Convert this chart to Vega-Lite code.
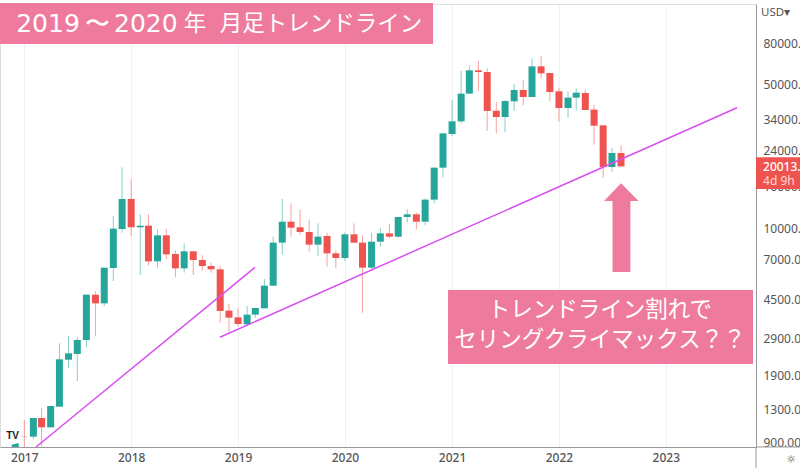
{
  "$schema": "https://vega.github.io/schema/vega-lite/v6.json",
  "width": 756,
  "height": 443,
  "autosize": "none",
  "padding": {"left": 0, "top": 4, "right": 44, "bottom": 21},
  "background": "white",
  "datasets": {
    "candles": [
      {"date":"2016-12-01","open":856,"close":892,"high":892,"low":856},
      {"date":"2017-01-01","open":968,"close":965,"high":1159,"low":856},
      {"date":"2017-02-01","open":961,"close":1185,"high":1185,"low":933},
      {"date":"2017-03-01","open":1185,"close":1067,"high":1321,"low":859},
      {"date":"2017-04-01","open":1067,"close":1357,"high":1357,"low":1067},
      {"date":"2017-05-01","open":1346,"close":2291,"high":2742,"low":1346},
      {"date":"2017-06-01","open":2282,"close":2451,"high":2977,"low":2078},
      {"date":"2017-07-01","open":2432,"close":2847,"high":2933,"low":1796},
      {"date":"2017-08-01","open":2847,"close":4736,"high":4736,"low":2621},
      {"date":"2017-09-01","open":4736,"close":4297,"high":4916,"low":2977},
      {"date":"2017-10-01","open":4297,"close":6415,"high":6415,"low":4171},
      {"date":"2017-11-01","open":6390,"close":9940,"high":11460,"low":5523},
      {"date":"2017-12-01","open":9904,"close":13870,"high":19800,"low":9504},
      {"date":"2018-01-01","open":13870,"close":10090,"high":17300,"low":9155},
      {"date":"2018-02-01","open":10090,"close":10280,"high":11720,"low":5908},
      {"date":"2018-03-01","open":10280,"close":6887,"high":11720,"low":6584},
      {"date":"2018-04-01","open":6887,"close":9224,"high":9865,"low":6415},
      {"date":"2018-05-01","open":9224,"close":7450,"high":9940,"low":7041},
      {"date":"2018-06-01","open":7478,"close":6366,"high":7764,"low":5754},
      {"date":"2018-07-01","open":6366,"close":7706,"high":8433,"low":6065},
      {"date":"2018-08-01","open":7706,"close":6990,"high":7706,"low":5908},
      {"date":"2018-09-01","open":6990,"close":6535,"high":7368,"low":6201},
      {"date":"2018-10-01","open":6535,"close":6295,"high":6784,"low":6065},
      {"date":"2018-11-01","open":6295,"close":3944,"high":6535,"low":3458},
      {"date":"2018-12-01","open":3958,"close":3658,"high":4265,"low":3114},
      {"date":"2019-01-01","open":3670,"close":3408,"high":4078,"low":3307},
      {"date":"2019-02-01","open":3394,"close":3785,"high":4171,"low":3369},
      {"date":"2019-03-01","open":3785,"close":4078,"high":4078,"low":3643},
      {"date":"2019-04-01","open":4062,"close":5240,"high":5648,"low":4062},
      {"date":"2019-05-01","open":5240,"close":8495,"high":9086,"low":5240},
      {"date":"2019-06-01","open":8495,"close":10750,"high":13870,"low":7423},
      {"date":"2019-07-01","open":10750,"close":10050,"high":13213,"low":9086},
      {"date":"2019-08-01","open":10090,"close":9574,"high":12260,"low":9291},
      {"date":"2019-09-01","open":9574,"close":8309,"high":10960,"low":7678},
      {"date":"2019-10-01","open":8309,"close":9086,"high":10550,"low":7340},
      {"date":"2019-11-01","open":9155,"close":7535,"high":9504,"low":6486},
      {"date":"2019-12-01","open":7535,"close":7148,"high":7764,"low":6390},
      {"date":"2020-01-01","open":7148,"close":9329,"high":9504,"low":6887},
      {"date":"2020-02-01","open":9329,"close":8495,"high":10550,"low":8433},
      {"date":"2020-03-01","open":8495,"close":6415,"high":9224,"low":3868},
      {"date":"2020-04-01","open":6415,"close":8590,"high":9504,"low":6295},
      {"date":"2020-05-01","open":8590,"close":9432,"high":10016,"low":8123},
      {"date":"2020-06-01","open":9432,"close":9086,"high":10476,"low":8883},
      {"date":"2020-07-01","open":9086,"close":11330,"high":11330,"low":8985},
      {"date":"2020-08-01","open":11330,"close":11680,"high":12350,"low":10630},
      {"date":"2020-09-01","open":11680,"close":10750,"high":11895,"low":9865},
      {"date":"2020-10-01","open":10750,"close":13770,"high":13980,"low":10320},
      {"date":"2020-11-01","open":13770,"close":19724,"high":19724,"low":13213},
      {"date":"2020-12-01","open":19724,"close":29000,"high":29000,"low":17700},
      {"date":"2021-01-01","open":28790,"close":33190,"high":42170,"low":28150},
      {"date":"2021-02-01","open":33190,"close":45290,"high":58420,"low":32450},
      {"date":"2021-03-01","open":45290,"close":58850,"high":62250,"low":45290},
      {"date":"2021-04-01","open":58850,"close":57750,"high":65350,"low":46830},
      {"date":"2021-05-01","open":57750,"close":37270,"high":60190,"low":29770},
      {"date":"2021-06-01","open":37400,"close":34840,"high":41240,"low":29000},
      {"date":"2021-07-01","open":34840,"close":41700,"high":42170,"low":29330},
      {"date":"2021-08-01","open":41550,"close":47190,"high":50480,"low":37270},
      {"date":"2021-09-01","open":47190,"close":43630,"high":52800,"low":39720},
      {"date":"2021-10-01","open":43630,"close":61550,"high":67340,"low":43630},
      {"date":"2021-11-01","open":61550,"close":56900,"high":69130,"low":53790},
      {"date":"2021-12-01","open":57100,"close":46130,"high":57100,"low":41550},
      {"date":"2022-01-01","open":46500,"close":38550,"high":48080,"low":33060},
      {"date":"2022-02-01","open":38550,"close":43300,"high":46320,"low":34580},
      {"date":"2022-03-01","open":43300,"close":45800,"high":48080,"low":37400},
      {"date":"2022-04-01","open":45620,"close":37690,"high":47530,"low":37690},
      {"date":"2022-05-01","open":37870,"close":31610,"high":39870,"low":25530},
      {"date":"2022-06-01","open":31730,"close":19870,"high":31730,"low":17630},
      {"date":"2022-07-01","open":19870,"close":23250,"high":24590,"low":18850},
      {"date":"2022-08-01","open":23250,"close":20013,"high":25340,"low":20013}
    ],
    "trendlines": [
      {"line":"2017","date":"2017-02-10","price":856},
      {"line":"2017","date":"2019-02-28","price":6441},
      {"line":"2019","date":"2018-10-31","price":2934},
      {"line":"2019","date":"2023-09-01","price":38680}
    ],
    "panels": [
      {"date":"2016-10-10","date2":"2020-10-28","price":125300,"price2":79100},
      {"date":"2020-12-18","date2":"2023-10-26","price":4991,"price2":2174},
      {"date":"2022-07-03","date2":"2022-09-02","price":13568,"price2":6107}
    ],
    "arrowhead": [
      {"date":"2022-06-04","price":13568,"base":13568},
      {"date":"2022-08-01","price":16550,"base":13568},
      {"date":"2022-09-30","price":13568,"base":13568}
    ],
    "frame": [
      {"date":"2023-11-05","date2":"2023-11-05","price":856,"price2":676},
      {"date":"2023-11-05","date2":"2024-04-05","price":856,"price2":856}
    ]
  },
  "encoding": {
    "x": {
      "field": "date",
      "type": "temporal",
      "title": null,
      "scale": {"domain": ["2016-10-10", "2023-11-05"], "padding": 0},
      "axis": {
        "values": [{"year":2017},{"year":2018},{"year":2019},{"year":2020},{"year":2021},{"year":2022},{"year":2023}],
        "format": "%Y",
        "grid": true,
        "gridColor": "#f0f1f5",
        "ticks": false,
        "domainColor": "#999999",
        "labelFont": "Noto Sans",
        "labelFontSize": 12,
        "labelFontWeight": 500,
        "labelColor": "#555555",
        "labelPadding": 5,
        "labelOverlap": false,
        "labelFlush": false
      }
    }
  },
  "layer": [
    {
      "data": {"name": "candles"},
      "mark": {"type": "rule", "strokeWidth": 1, "opacity": 0.55},
      "encoding": {
        "y": {
          "field": "low",
          "type": "quantitative",
          "title": null,
          "scale": {"type": "log", "domain": [855.8, 123985], "nice": false},
          "axis": {
            "orient": "right",
            "values": [900, 1300, 1900, 2900, 4500, 7000, 10000, 16000, 24000, 34000, 50000, 80000],
            "format": ".2f",
            "grid": false,
            "ticks": false,
            "domainColor": "#999999",
            "labelFont": "Noto Sans",
            "labelFontSize": 12,
            "labelColor": "#555555",
            "labelPadding": 7,
            "labelOverlap": false,
            "labelFlush": false
          }
        },
        "y2": {"field": "high"},
        "color": {"condition": {"test": "datum.close >= datum.open", "value": "#26a69a"}, "value": "#ef5350"}
      }
    },
    {
      "data": {"name": "candles"},
      "mark": {"type": "bar", "size": 7, "orient": "vertical"},
      "encoding": {
        "y": {"field": "open", "type": "quantitative", "scale": {"type": "log", "domain": [855.8, 123985], "nice": false}},
        "y2": {"field": "close"},
        "color": {"condition": {"test": "datum.close >= datum.open", "value": "#26a69a"}, "value": "#ef5350"}
      }
    },
    {
      "data": {"name": "trendlines"},
      "mark": {"type": "line", "color": "#d84ff0", "strokeWidth": 1.5},
      "encoding": {
        "y": {"field": "price", "type": "quantitative", "scale": {"type": "log", "domain": [855.8, 123985], "nice": false}},
        "detail": {"field": "line"}
      }
    },
    {
      "data": {"name": "panels"},
      "mark": {"type": "rect", "color": "#ee7b9e", "clip": false},
      "encoding": {
        "x2": {"field": "date2"},
        "y": {"field": "price", "type": "quantitative", "scale": {"type": "log", "domain": [855.8, 123985], "nice": false}},
        "y2": {"field": "price2"}
      }
    },
    {
      "data": {"name": "arrowhead"},
      "mark": {"type": "area", "color": "#ee7b9e", "orient": "vertical"},
      "encoding": {
        "y": {"field": "price", "type": "quantitative", "scale": {"type": "log", "domain": [855.8, 123985], "nice": false}},
        "y2": {"field": "base"}
      }
    },
    {
      "data": {"name": "frame"},
      "mark": {"type": "rule", "color": "#999999"},
      "encoding": {
        "x2": {"field": "date2"},
        "y": {"field": "price", "type": "quantitative", "scale": {"type": "log", "domain": [855.8, 123985], "nice": false}},
        "y2": {"field": "price2"}
      }
    },
    {
      "data": {"values": [{"date":"2023-11-05","date2":"2024-04-05","price":22150,"price2":15520}]},
      "mark": {"type": "rect", "color": "#ef5350"},
      "encoding": {
        "x2": {"field": "date2"},
        "y": {"field": "price", "type": "quantitative", "scale": {"type": "log", "domain": [855.8, 123985], "nice": false}},
        "y2": {"field": "price2"}
      }
    },
    {
      "data": {"values": [{"date":"2016-11-22","price":968}]},
      "mark": {"type": "point", "shape": "circle", "filled": true, "color": "white", "opacity": 1, "size": 280},
      "encoding": {
        "y": {"field": "price", "type": "quantitative", "scale": {"type": "log", "domain": [855.8, 123985], "nice": false}}
      }
    },
    {
      "data": {"values": [{"date":"2016-11-22","price":968,"label":"TV"}]},
      "mark": {"type": "text", "font": "Liberation Sans", "fontSize": 10, "fontWeight": "bold", "color": "#222222"},
      "encoding": {
        "y": {"field": "price", "type": "quantitative", "scale": {"type": "log", "domain": [855.8, 123985], "nice": false}},
        "text": {"field": "label"}
      }
    },
    {
      "data": {"values": [
        {"date":"2017-03-23","price":99030,"label":"2019"},
        {"date":"2017-09-08","price":99030,"label":"〜"},
        {"date":"2018-02-20","price":99030,"label":"2020"}
      ]},
      "mark": {"type": "text", "font": "DejaVu Sans", "fontSize": 25, "color": "white"},
      "encoding": {
        "y": {"field": "price", "type": "quantitative", "scale": {"type": "log", "domain": [855.8, 123985], "nice": false}},
        "text": {"field": "label"}
      }
    },
    {
      "data": {"values": [
        {"date":"2018-08-07","price":99030,"label":"年"},
        {"date":"2019-10-11","price":99030,"label":"月足トレンドライン"}
      ]},
      "mark": {"type": "text", "font": "Noto Sans CJK JP", "fontSize": 22.5, "color": "white"},
      "encoding": {
        "y": {"field": "price", "type": "quantitative", "scale": {"type": "log", "domain": [855.8, 123985], "nice": false}},
        "text": {"field": "label"}
      }
    },
    {
      "data": {"values": [
        {"date":"2022-05-21","price":3987,"label":"トレンドライン割れで"},
        {"date":"2022-05-21","price":2846,"label":"セリングクライマックス？？"}
      ]},
      "mark": {"type": "text", "font": "Noto Sans CJK JP", "fontSize": 22.5, "color": "white"},
      "encoding": {
        "y": {"field": "price", "type": "quantitative", "scale": {"type": "log", "domain": [855.8, 123985], "nice": false}},
        "text": {"field": "label"}
      }
    },
    {
      "data": {"values": [{"date":"2023-11-29","price":19870,"label":"20013.00"}]},
      "mark": {"type": "text", "font": "Noto Sans", "fontSize": 12, "fontWeight": 500, "align": "left", "color": "white"},
      "encoding": {
        "y": {"field": "price", "type": "quantitative", "scale": {"type": "log", "domain": [855.8, 123985], "nice": false}},
        "text": {"field": "label"}
      }
    },
    {
      "data": {"values": [{"date":"2023-11-29","price":16970,"label":"4d 9h"}]},
      "mark": {"type": "text", "font": "Noto Sans", "fontSize": 12, "align": "left", "color": "#fbd9d8"},
      "encoding": {
        "y": {"field": "price", "type": "quantitative", "scale": {"type": "log", "domain": [855.8, 123985], "nice": false}},
        "text": {"field": "label"}
      }
    },
    {
      "data": {"values": [{"date":"2023-11-22","price":112050,"label":"USD▾"}]},
      "mark": {"type": "text", "font": "Noto Sans", "fontSize": 11.5, "align": "left", "color": "#555555"},
      "encoding": {
        "y": {"field": "price", "type": "quantitative", "scale": {"type": "log", "domain": [855.8, 123985], "nice": false}},
        "text": {"field": "label"}
      }
    },
    {
      "data": {"values": [{"date":"2024-03-04","price":739,"label":"☼"}]},
      "mark": {"type": "text", "font": "DejaVu Sans", "fontSize": 11, "color": "#555555"},
      "encoding": {
        "y": {"field": "price", "type": "quantitative", "scale": {"type": "log", "domain": [855.8, 123985], "nice": false}},
        "text": {"field": "label"}
      }
    }
  ]
}
